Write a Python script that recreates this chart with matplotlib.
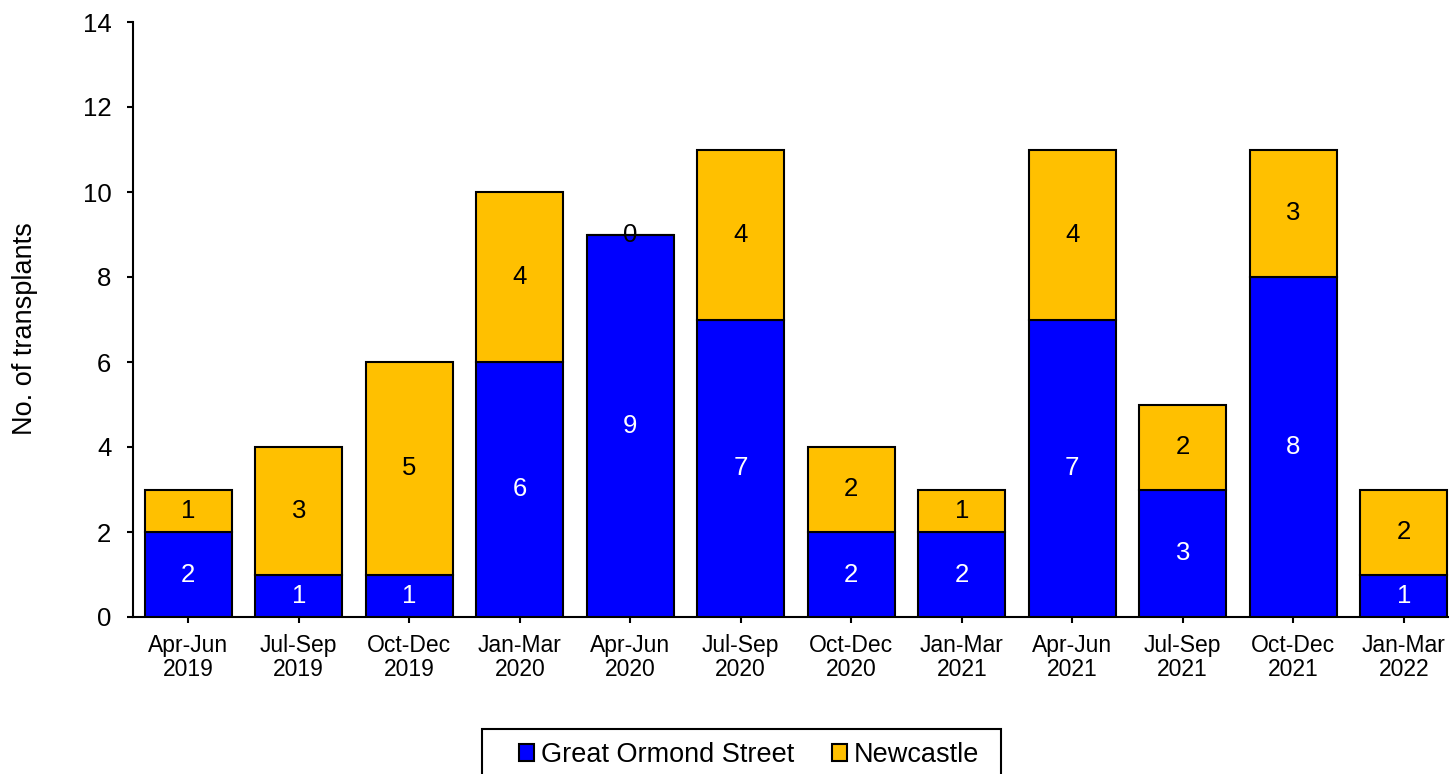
import matplotlib
matplotlib.use("Agg")
import matplotlib.pyplot as plt
from matplotlib.patches import Rectangle
import numpy as np

plt.rcParams['font.family'] = ['Liberation Sans', 'DejaVu Sans']

categories = ["Apr-Jun\n2019", "Jul-Sep\n2019", "Oct-Dec\n2019", "Jan-Mar\n2020",
              "Apr-Jun\n2020", "Jul-Sep\n2020", "Oct-Dec\n2020", "Jan-Mar\n2021",
              "Apr-Jun\n2021", "Jul-Sep\n2021", "Oct-Dec\n2021", "Jan-Mar\n2022"]
gos = [2, 1, 1, 6, 9, 7, 2, 2, 7, 3, 8, 1]
newcastle = [1, 3, 5, 4, 0, 4, 2, 1, 4, 2, 3, 2]
series_names = ["Great Ormond Street", "Newcastle"]
yticks = [0, 2, 4, 6, 8, 10, 12, 14]

W, H = 1449, 774
fig = plt.figure(figsize=(W / 100, H / 100), dpi=100)
ax = fig.add_axes([133 / W, 157 / H, 1326 / W, 595 / H])

x = np.arange(len(categories))
bw = 0.79
b1 = ax.bar(x, gos, bw, color='#0000FF', edgecolor='black', linewidth=1.5,
            label=series_names[0], zorder=3)
b2 = ax.bar(x, newcastle, bw, bottom=gos, color='#FFC000', edgecolor='black',
            linewidth=1.5, label=series_names[1], zorder=3)

ax.bar_label(b1, labels=[str(v) for v in gos], label_type='center',
             color='white', fontsize=18.5)
ax.bar_label(b2, labels=[str(v) for v in newcastle], label_type='center',
             color='black', fontsize=18.5)

ax.set_xlim(-0.5, 11.5)
ax.set_ylim(0, 14)
ax.set_yticks(yticks)
ax.set_xticks(x)
ax.set_xticklabels(categories, fontsize=16.5, linespacing=1.05)
ax.tick_params(axis='y', labelsize=18.5, length=4.5, width=1.5, pad=11, direction='out')
ax.tick_params(axis='x', length=4, width=1.5, pad=8, direction='out')

for s in ['top', 'right']:
    ax.spines[s].set_visible(False)
for s in ['left', 'bottom']:
    ax.spines[s].set_linewidth(1.5)
    ax.spines[s].set_color('black')

ax.set_ylabel("No. of transplants", fontsize=19.5)
ax.yaxis.set_label_coords((38 - 133) / 1326, 0.485)

# legend frame
fig.patches.append(Rectangle((482 / W, 1 - 790 / H), (1001 - 482) / W, (790 - 729) / H,
                             transform=fig.transFigure, facecolor='white',
                             edgecolor='black', linewidth=1.5, zorder=1))
leg = fig.legend(handles=[b1, b2], labels=series_names, loc='center left',
                 bbox_to_anchor=(519 / W, 1 - 755 / H), ncol=2, fontsize=19.5,
                 frameon=False, handlelength=0.55, handleheight=0.55,
                 handletextpad=0.26, columnspacing=1.4, borderpad=0,
                 borderaxespad=0)

fig.savefig("out.png", dpi=100)
